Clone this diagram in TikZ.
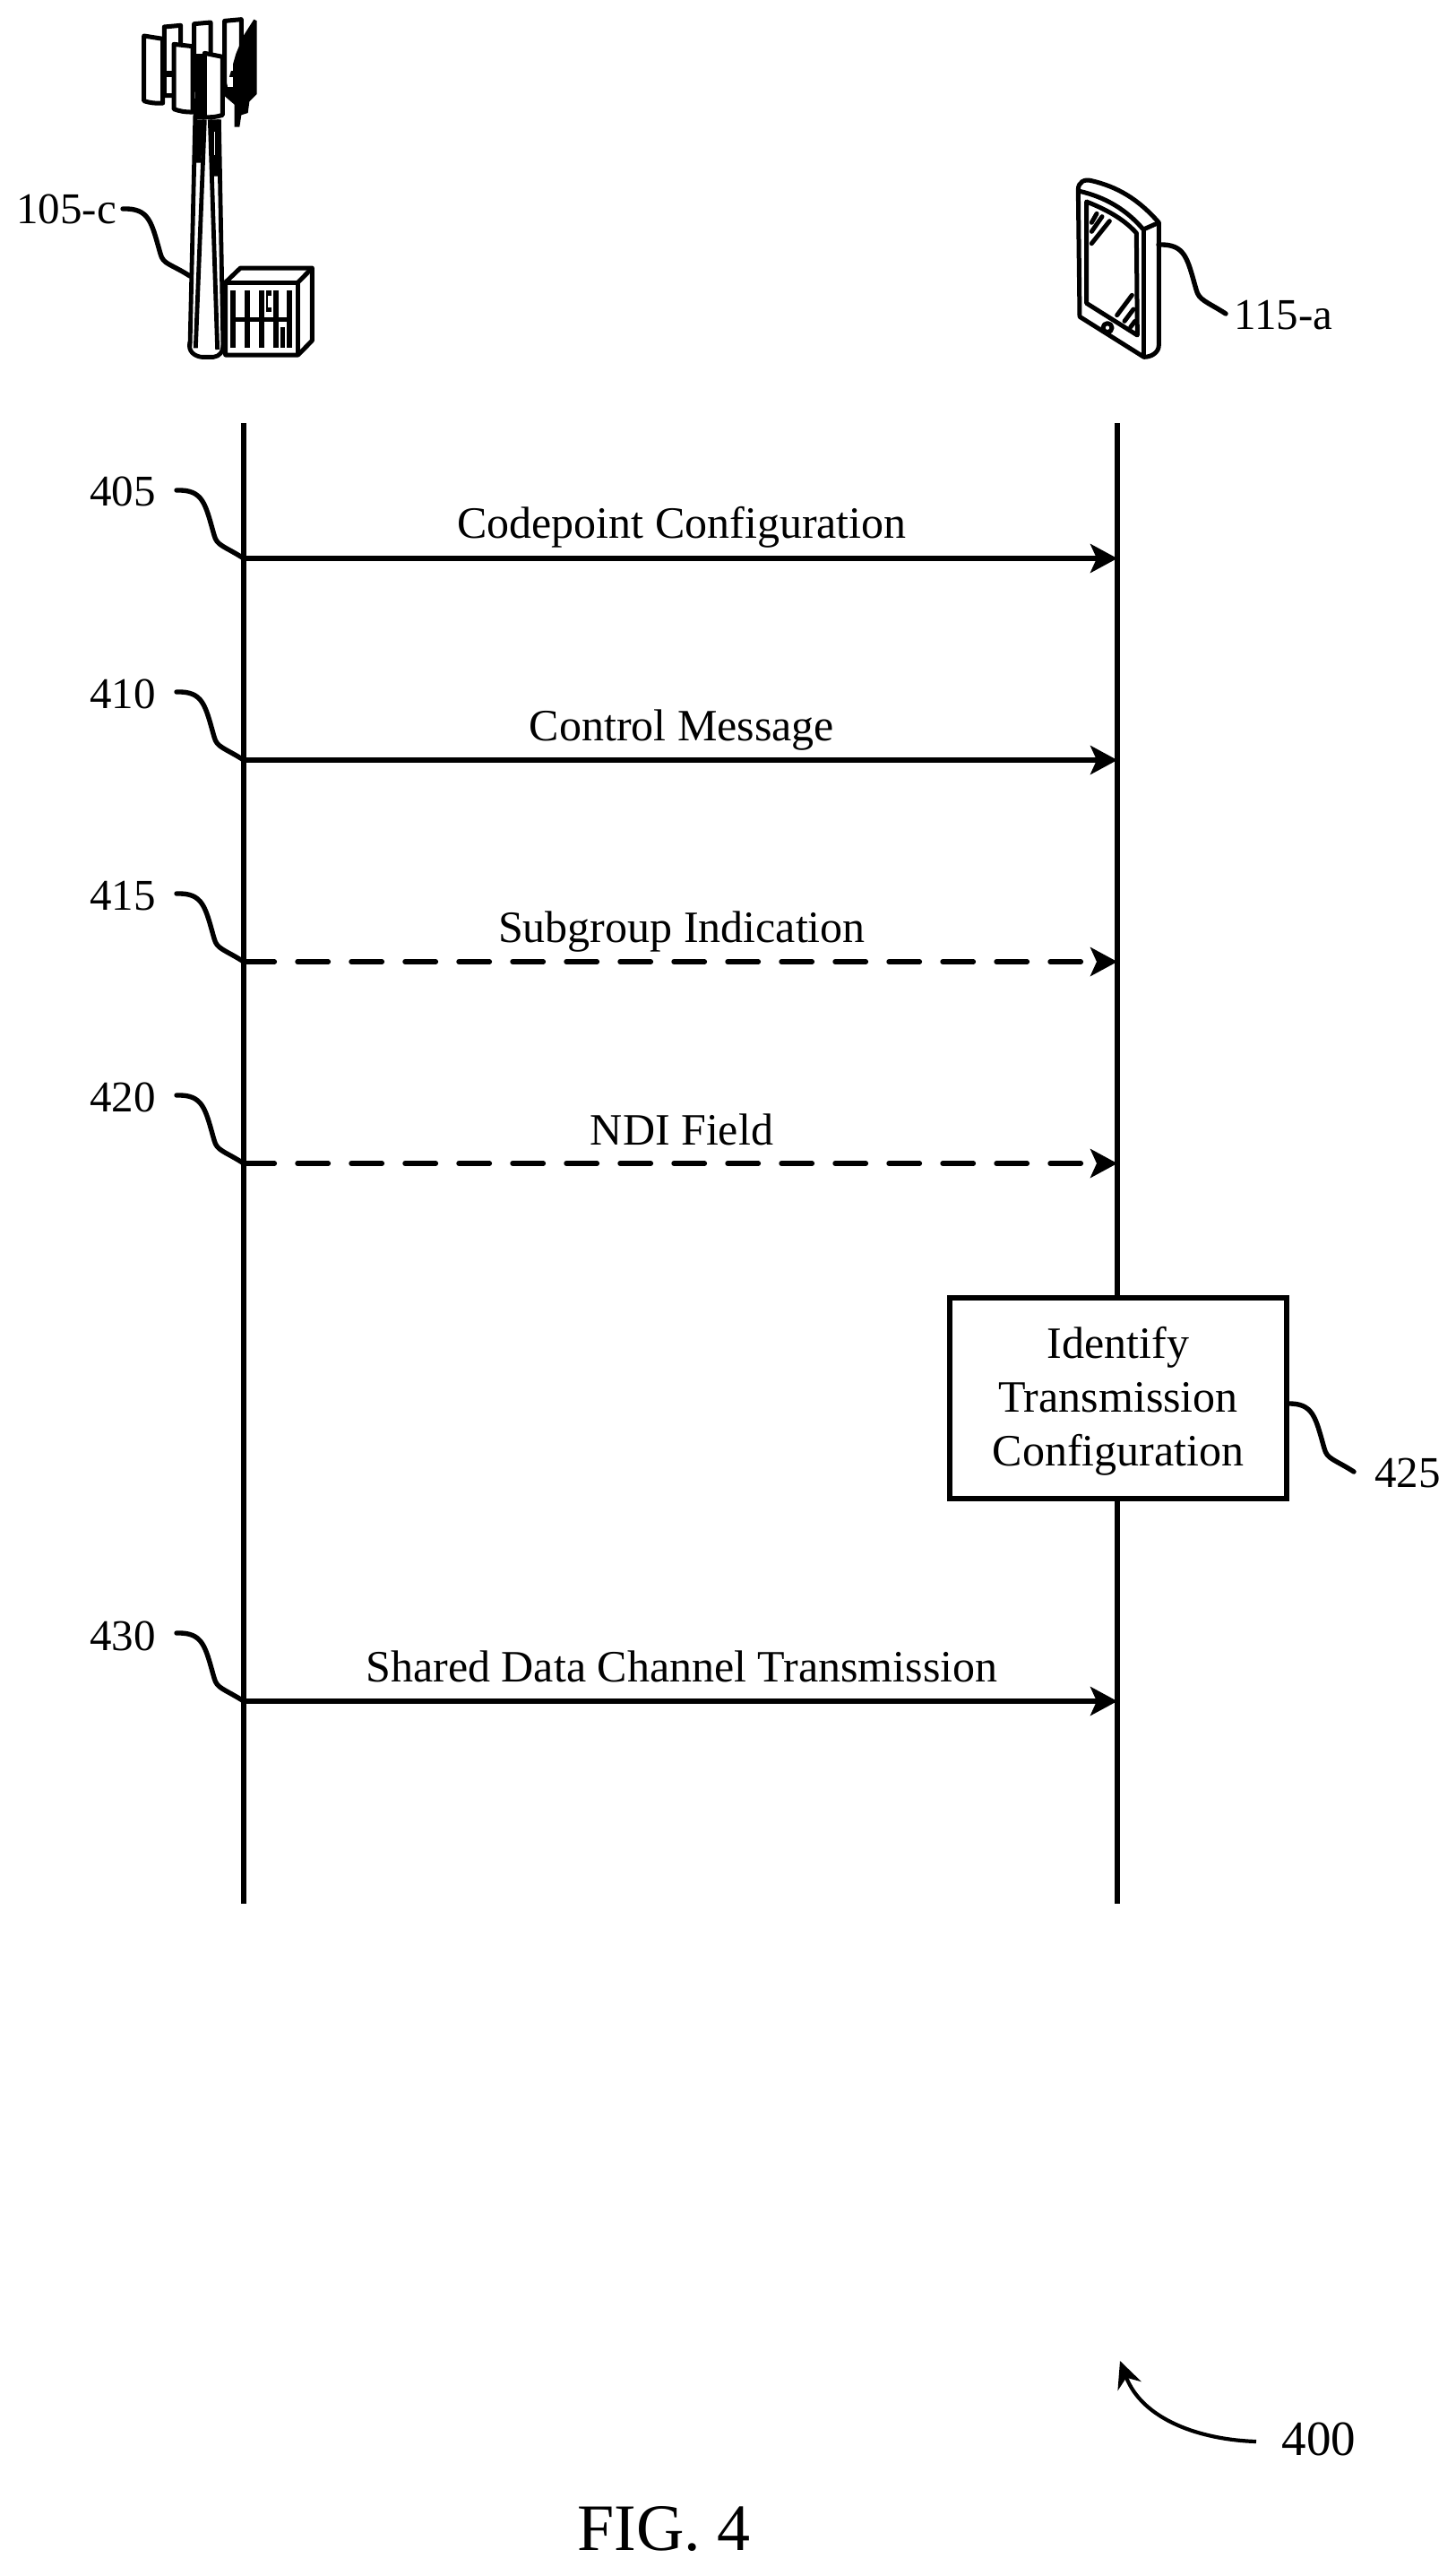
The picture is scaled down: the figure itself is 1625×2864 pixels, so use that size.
\documentclass[tikz,border=0pt]{standalone}
\usepackage{fontspec}
\setmainfont{Liberation Serif}
\usetikzlibrary{arrows.meta,calc}
\tikzset{
  every picture/.style={x=0.5pt,y=-0.5pt},
  lbl/.style={inner sep=0pt,anchor=base,font=\fontsize{24.5}{30}\selectfont},
  msgtext/.style={inner sep=0pt,anchor=base,font=\fontsize{25}{30}\selectfont},
  lifeline/.style={line width=3pt},
  msg/.style={line width=2.7pt,-{Stealth[length=15pt,width=16pt,inset=3.5pt]}},
  dmsg/.style={msg,line cap=round,dash pattern=on 17.2pt off 12.8pt},
  squig/.style={line width=2.7pt,line cap=round},
  actbox/.style={draw,line width=2.8pt,fill=white,minimum width=188pt,minimum height=112pt,inner sep=0pt,align=center,font=\fontsize{25}{30}\selectfont},
  ic/.style={line width=2.5pt,line join=round},
  icb/.style={ic,fill=white},
  mast/.style={line width=2.4pt}
}
\newcommand{\squiggle}[2]{%
  \draw[squig] (#1) .. controls +(30,-1) and +(-10,-35) .. ($(#1)+(42,50)$) .. controls +(3,12) and +(-22,-14) .. (#2);}
\begin{document}
\begin{tikzpicture}
\useasboundingbox[fill=white] (0,0) rectangle (1625,2864);
% lifelines
\coordinate (Ltop) at (272,472);
\coordinate (Lbot) at (272,2124);
\coordinate (Rtop) at (1247,472);
\coordinate (Rbot) at (1247,2124);
\draw[lifeline] (Ltop) -- (Lbot);
\draw[lifeline] (Rtop) -- (Rbot);
% messages
\foreach \n/\y in {a/623,b/848,c/1073,d/1298,e/1898}{
  \coordinate (L\n) at (272,\y);
  \coordinate (R\n) at (1247,\y);
  \coordinate (s\n) at (197,\y-76);
}
\draw[msg] (La) -- (Ra);
\draw[msg] (Lb) -- (Rb);
\draw[dmsg] (Lc) -- (Rc);
\draw[dmsg] (Ld) -- (Rd);
\draw[msg] (Le) -- (Re);
\node[msgtext] (ta) at (761,600) {Codepoint Configuration};
\node[msgtext] (tb) at (761,826) {Control Message};
\node[msgtext] (tc) at (761,1051) {Subgroup Indication};
\node[msgtext] (td) at (761,1277) {NDI Field};
\node[msgtext] (te) at (761,1876) {Shared Data Channel Transmission};
% step labels
\foreach \n/\t/\y in {a/405/564,b/410/790,c/415/1015,d/420/1240,e/430/1841}{
  \node[lbl] (l\n) at (137,\y) {\t};
  \squiggle{s\n}{L\n}
}
% box
\node[actbox] (box) at (1248,1560) {\rule{0pt}{21pt}Identify\\Transmission\\Configuration};
\node[lbl] (l425) at (1571,1659) {425};
\coordinate (s425) at (1436,1566);
\coordinate (f425) at (1511,1642);
\squiggle{s425}{f425}
% fig ref
\node[lbl,font=\fontsize{27.5}{30}\selectfont] (l400) at (1472,2739) {400};
\coordinate (a400) at (1402,2724);
\coordinate (b400) at (1250,2634);
\draw[line width=2.1pt,-{Stealth[length=15pt,width=14pt,inset=5pt]}] (a400) .. controls (1340,2722) and (1275,2700) .. (b400);
\node[inner sep=0pt,anchor=base,font=\fontsize{37}{40}\selectfont] (fig) at (741,2845) {FIG. 4};
% tower
\begin{scope}[x=0.16667pt,y=-0.16667pt]
  \draw[icb] (550,90) -- (605,85) -- (605,320) -- (550,320) -- cycle;
  \draw[icb] (650,80) -- (705,75) -- (705,300) -- (650,300) -- cycle;
  \draw[icb] (752,70) -- (808,65) -- (808,300) -- (752,310) -- cycle;
  \fill (815,120) -- (850,65) -- (860,70) -- (860,315) -- (835,340) -- (830,378) -- (808,385) -- (802,425) -- (785,425) -- (785,350) -- (750,320) -- (790,180) -- cycle;
  \fill[white] (762,195) rectangle (780,238);
  \fill[white] (762,258) rectangle (780,290);
  \fill (655,180) rectangle (700,400);
  \fill (550,238) rectangle (605,258);
  \fill[white] (560,208) rectangle (575,238);
  \fill[white] (560,258) rectangle (575,312);
  \draw[icb] (482,120) -- (545,130) -- (545,345) to[bend left=10] (482,338) -- cycle;
  \draw[icb] (582,148) -- (645,155) -- (645,375) to[bend left=10] (582,365) -- cycle;
  \draw[icb] (685,178) -- (745,190) -- (745,385) to[bend left=10] (685,392) -- cycle;
  % mast
  \fill[white] (650,400) -- (735,400) -- (745,1170) -- (640,1170) -- cycle;
  \draw[mast] (655,330) -- (636,1160);
  \draw[mast] (685,400) -- (655,1165);
  \draw[mast] (703,400) -- (728,1170);
  \draw[mast] (733,400) -- (747,1165);
  \fill (660,400) -- (685,400) -- (672,545) -- (650,545) -- cycle;
  \fill (703,400) -- (735,400) -- (740,590) -- (712,590) -- cycle;
  \fill[white] (716,440) rectangle (721,520);
  \draw[line width=2.4pt] (636,1145) .. controls (628,1175) and (650,1192) .. (675,1195) -- (715,1195) .. controls (735,1192) and (747,1180) .. (747,1150);
  % cabinet
  \draw[icb] (755,945) -- (805,897) -- (1045,897) -- (1045,1140) -- (998,1188) -- (755,1188) -- cycle;
  \draw[ic] (755,945) -- (998,945) -- (998,1188);
  \draw[ic] (998,945) -- (1045,897);
  \foreach \xa/\xb in {772/790,820/836,868/885,915/932,960/978}{
    \fill (\xa,972) rectangle (\xb,1165);
  }
  \fill (772,1062) rectangle (978,1076);
  \fill (891,972) rectangle (908,1043);
  \fill[white] (896,990) rectangle (908,1030);
  \fill[white] (936,972) rectangle (941,1043);
  \fill (938,1095) rectangle (953,1165);
\end{scope}
\coordinate (tw) at (212,308);
\node[lbl,anchor=base west] (l105) at (18,249) {105-c};
\coordinate (s105) at (137,233);
\squiggle{s105}{tw}
% phone
\begin{scope}[shift={(1150,170)},x=0.16667pt,y=-0.16667pt]
  \draw[icb] (160,125) .. controls (160,100) and (180,88) .. (205,95) .. controls (290,115) and (360,155) .. (430,235) -- (430,645) .. controls (430,670) and (405,685) .. (380,685) -- (165,550) -- cycle;
  \draw[ic] (165,130) .. controls (250,150) and (320,190) .. (378,258) -- (430,235);
  \draw[ic] (378,258) -- (378,682);
  \draw[ic] (188,165) .. controls (250,190) and (310,220) .. (355,270) -- (358,612) -- (188,505) -- cycle;
  \draw[ic,line cap=round] (205,305) -- (265,230);
  \draw[ic,line cap=round] (205,265) -- (240,215);
  \draw[ic,line cap=round] (205,235) -- (222,205);
  \draw[ic,line cap=round] (290,545) -- (340,478);
  \draw[ic,line cap=round] (315,565) -- (345,525);
  \draw[ic,line cap=round] (335,585) -- (350,565);
  \draw[icb] (258,587) circle (15);
\end{scope}
\node[lbl,anchor=base west] (l115) at (1377,367) {115-a};
\coordinate (p0) at (1293,273);
\coordinate (p1) at (1368,350);
\squiggle{p0}{p1}
\end{tikzpicture}
\end{document}
